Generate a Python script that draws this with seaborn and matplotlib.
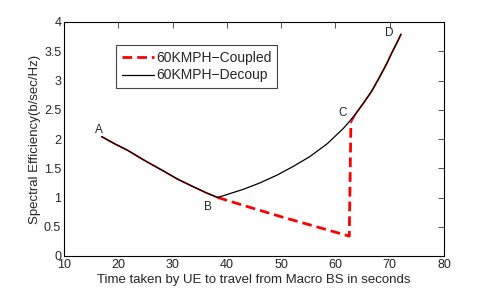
import matplotlib
matplotlib.use("Agg")
import matplotlib.pyplot as plt
from matplotlib.lines import Line2D
import seaborn as sns
import pandas as pd

# Decoupled curve (A -> B -> C -> D)
decoup_x = [16.94, 19.3, 21.84, 24.9, 28.0, 31.0, 34.13, 36.2, 38.31,
            43.03, 46.1, 49.18, 52.2, 55.3, 58.5, 61.45, 62.4,
            63.8, 65.14, 66.7, 68.2, 69.4, 70.37, 71.3, 72.08]
decoup_y = [2.04, 1.92, 1.80, 1.63, 1.47, 1.31, 1.17, 1.08, 1.00,
            1.14, 1.25, 1.38, 1.53, 1.70, 1.92, 2.18, 2.28,
            2.44, 2.61, 2.82, 3.07, 3.28, 3.47, 3.64, 3.79]

# Coupled curve (A -> B -> drop -> jump at C -> D)
coup_x = [16.94, 19.3, 21.84, 24.9, 28.0, 31.0, 34.13, 36.2, 38.31,
          44.3, 50.4, 56.5, 62.55, 62.85, 63.8, 65.14, 66.7, 68.2,
          69.4, 70.37, 71.3, 72.08]
coup_y = [2.04, 1.92, 1.80, 1.63, 1.47, 1.31, 1.17, 1.08, 1.00,
          0.83, 0.66, 0.50, 0.34, 2.28, 2.44, 2.61, 2.82, 3.07,
          3.28, 3.47, 3.64, 3.79]

point_labels = ["A", "B", "C", "D"]
point_x = [16.4, 36.5, 61.4, 70.0]
point_y = [2.15, 0.84, 2.45, 3.81]

xticks = [10, 20, 30, 40, 50, 60, 70, 80]
yticks = [0, 0.5, 1, 1.5, 2, 2.5, 3, 3.5, 4]
yticklabels = ["0", "0.5", "1", "1.5", "2", "2.5", "3", "3.5", "4"]

sns.set_style("white")
plt.rcParams["font.family"] = ["Liberation Sans", "DejaVu Sans"]

fig = plt.figure(figsize=(4.91, 2.88), dpi=100)
ax = fig.add_axes([64 / 491, 32 / 288, 380 / 491, 234 / 288])

df_c = pd.DataFrame({"x": coup_x, "y": coup_y})
df_d = pd.DataFrame({"x": decoup_x, "y": decoup_y})
# shared parts (hidden under the black curve) and the departing part
df_c_ab = df_c.iloc[:9]
df_c_cd = df_c.iloc[13:]
df_c_split = df_c.iloc[8:14]

RED = "#ff0000"
for part in (df_c_ab, df_c_cd):
    sns.lineplot(data=part, x="x", y="y", sort=False, ax=ax, color=RED,
                 lw=1.2, legend=False)
sns.lineplot(data=df_c_split, x="x", y="y", sort=False, ax=ax, color=RED,
             lw=2.0, legend=False)
ax.lines[-1].set_dashes([3.5, 1.8])
sns.lineplot(data=df_d, x="x", y="y", sort=False, ax=ax, color="black",
             lw=0.9, legend=False)

for t, x, y in zip(point_labels, point_x, point_y):
    ax.text(x, y, t, fontsize=8.5, ha="center", va="center")

ax.set_xlim(10, 80)
ax.set_ylim(0, 4)
ax.set_xticks(xticks)
ax.set_xticklabels([str(v) for v in xticks])
ax.set_yticks(yticks)
ax.set_yticklabels(yticklabels)
ax.tick_params(direction="in", length=4, width=0.6, top=True, right=True,
               labelsize=9, pad=2, color="#333333")
for s in ax.spines.values():
    s.set_color("black")
    s.set_linewidth(0.8)

ax.set_xlabel("Time taken by UE to travel from Macro BS in seconds", fontsize=9.5, labelpad=2)
ax.set_ylabel("Spectral Efficiency(b/sec/Hz)", fontsize=9.5, labelpad=2)

h1 = Line2D([], [], color=RED, lw=2.0, dashes=[3.5, 1.8])
h2 = Line2D([], [], color="black", lw=0.9)
leg = ax.legend([h1, h2], ["60KMPH\u2212Coupled", "60KMPH\u2212Decoup"],
                loc="upper left", bbox_to_anchor=(0.137, 0.9), fontsize=10,
                frameon=True, fancybox=False, framealpha=1, edgecolor="#444444",
                handlelength=2.3, handletextpad=0.2, borderpad=0.4,
                labelspacing=0.25, borderaxespad=0)
leg.get_frame().set_linewidth(0.8)

fig.savefig("out.png", dpi=100)
